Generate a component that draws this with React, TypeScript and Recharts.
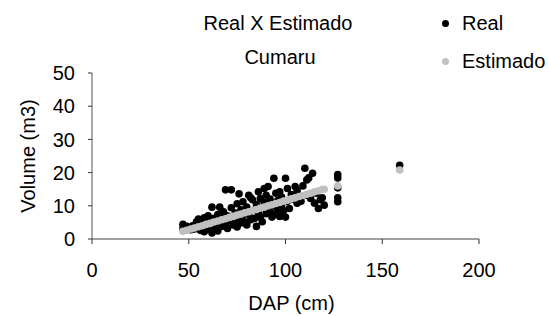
import { ScatterChart, Scatter, XAxis, YAxis, Label } from "recharts";

// Real (medido) - DAP em cm, volume em m3
const realDap = [
  47, 47, 49, 51, 52, 53, 54, 55, 55, 56, 57, 57, 58, 58, 59, 60, 60, 61, 62, 62,
  63, 63, 64, 65, 65, 66, 66, 67, 68, 68, 69, 69, 70, 70, 71, 72, 72, 73, 74, 74,
  75, 75, 76, 76, 77, 77, 78, 78, 79, 80, 80, 81, 81, 82, 82, 83, 83, 84, 85, 85,
  86, 86, 87, 87, 88, 88, 89, 89, 90, 90, 91, 91, 92, 92, 93, 93, 94, 94, 95, 95,
  96, 96, 97, 97, 98, 98, 99, 100, 100, 101, 101, 102, 103, 104, 105, 106, 106, 107, 108, 109,
  110, 111, 111, 112, 113, 114, 115, 116, 117, 118, 119, 120, 127, 127, 127, 127, 127, 159,
];
const realVol = [
  4.4, 3.2, 3.8, 2.8, 4.0, 3.0, 5.2, 4.2, 6.0, 2.6, 5.0, 3.4, 6.4, 2.2, 4.6, 7.0, 3.0, 5.4, 9.6, 1.8,
  6.2, 3.6, 4.8, 7.4, 2.4, 9.6, 5.6, 3.8, 6.6, 8.2, 14.8, 4.4, 7.0, 3.2, 5.6, 14.8, 9.4, 4.2, 7.8, 5.8,
  10.6, 3.6, 13.6, 6.4, 8.8, 4.8, 11.2, 7.2, 5.2, 9.6, 4.2, 13.2, 7.4, 12.4, 5.8, 11.8, 8.6, 6.2, 10.4, 3.8,
  14.2, 8.0, 12.2, 6.6, 9.4, 5.2, 15.2, 11.0, 7.6, 13.2, 15.8, 9.2, 8.4, 12.0, 10.6, 6.6, 18.3, 7.4, 13.8, 9.8,
  11.6, 8.2, 14.2, 6.8, 12.6, 10.2, 8.6, 18.3, 6.6, 15.2, 11.4, 9.2, 13.4, 12.0, 15.8, 10.8, 14.6, 12.8, 11.4, 16.0,
  21.3, 17.8, 13.2, 18.4, 12.2, 19.8, 10.8, 13.8, 9.2, 11.8, 12.4, 10.2, 19.4, 18.4, 15.4, 12.4, 11.2, 22.2,
];

// Estimado pela equação de volume
const estDap = [
  47, 49, 51, 53, 55, 57, 59, 61, 63, 65, 67, 69, 71, 73, 75, 77, 79, 81, 83, 85,
  87, 89, 91, 93, 95, 97, 99, 101, 103, 105, 107, 109, 111, 113, 115, 117, 119, 120, 127, 159,
];
const estVol = [
  2.3, 2.6, 3.0, 3.3, 3.7, 4.0, 4.4, 4.7, 5.1, 5.4, 5.8, 6.1, 6.5, 6.8, 7.2, 7.5, 7.9, 8.2, 8.6, 8.9,
  9.3, 9.6, 10.0, 10.3, 10.7, 11.0, 11.4, 11.7, 12.1, 12.4, 12.8, 13.1, 13.5, 13.8, 14.2, 14.5, 14.9, 15.0, 16.0, 20.8,
];

const xTicks = [0, 50, 100, 150, 200];
const yTicks = [0, 10, 20, 30, 40, 50];

const realData = realDap.map((d, i) => ({ dap: d, vol: realVol[i] }));
const estData = estDap.map((d, i) => ({ dap: d, vol: estVol[i] }));

const FONT = "'Liberation Sans', Arial, sans-serif";
const FS = 20;
const tickStyle = { fill: "#000", fontSize: FS, fontFamily: FONT };

const dot = (color: string) => (p: any) => <circle cx={p.cx} cy={p.cy} r={3.8} fill={color} />;

export default function App() {
  return (
    <div style={{ position: "absolute", left: 0, top: 0, width: 548, height: 316, background: "#fff", fontFamily: FONT }}>
      <div style={{ position: "absolute", left: 178, top: 11, width: 200, textAlign: "center", fontSize: FS, lineHeight: "24px" }}>
        Real X Estimado
      </div>
      <div style={{ position: "absolute", left: 180, top: 45, width: 200, textAlign: "center", fontSize: FS, lineHeight: "24px" }}>
        Cumaru
      </div>
      {[
        { name: "Real", color: "#000", top: 11 },
        { name: "Estimado", color: "#c0c0c0", top: 49 },
      ].map((it) => (
        <div key={it.name} style={{ position: "absolute", left: 442, top: it.top, display: "flex", alignItems: "center", fontSize: FS, lineHeight: "24px", whiteSpace: "nowrap" }}>
          <span style={{ width: 7, height: 7, borderRadius: "50%", background: it.color, display: "inline-block", marginRight: 13 }} />
          {it.name}
        </div>
      ))}
      <ScatterChart width={548} height={316} margin={{ top: 73, right: 69, bottom: 0, left: 12 }} style={{ position: "absolute", left: 0, top: 0 }}>
        <XAxis
          type="number"
          dataKey="dap"
          domain={[0, 200]}
          ticks={xTicks}
          height={77}
          tick={tickStyle}
          tickSize={5}
          tickMargin={19}
          axisLine={{ stroke: "#808080", strokeWidth: 1.5 }}
          tickLine={{ stroke: "#333" }}
        >
          <Label
            content={(props: any) => {
              const vb = props.viewBox || { x: 92, y: 239, width: 387, height: 77 };
              const cx = vb.x + vb.width / 2 + 6;
              return (
                <text x={cx} y={vb.y + vb.height - 6} textAnchor="middle" fontSize={FS} fontFamily={FONT} fill="#000">
                  DAP (cm)
                </text>
              );
            }}
          />
        </XAxis>
        <YAxis
          type="number"
          dataKey="vol"
          domain={[0, 50]}
          ticks={yTicks}
          width={80}
          tick={tickStyle}
          tickSize={4}
          tickMargin={13}
          axisLine={{ stroke: "#555" }}
          tickLine={{ stroke: "#333" }}
        >
          <Label
            content={(props: any) => {
              const vb = props.viewBox || { x: 12, y: 73, width: 80, height: 166 };
              const cx = vb.x + 16;
              const cy = vb.y + vb.height / 2;
              return (
                <text x={cx} y={cy} transform={`rotate(-90 ${cx} ${cy})`} textAnchor="middle" dominantBaseline="central" fontSize={FS} fontFamily={FONT} fill="#000">
                  Volume (m3)
                </text>
              );
            }}
          />
        </YAxis>
        <Scatter name="Real" data={realData} shape={dot("#000")} isAnimationActive={false} />
        <Scatter name="Estimado" data={estData} shape={dot("#c0c0c0")} isAnimationActive={false} />
      </ScatterChart>
    </div>
  );
}
